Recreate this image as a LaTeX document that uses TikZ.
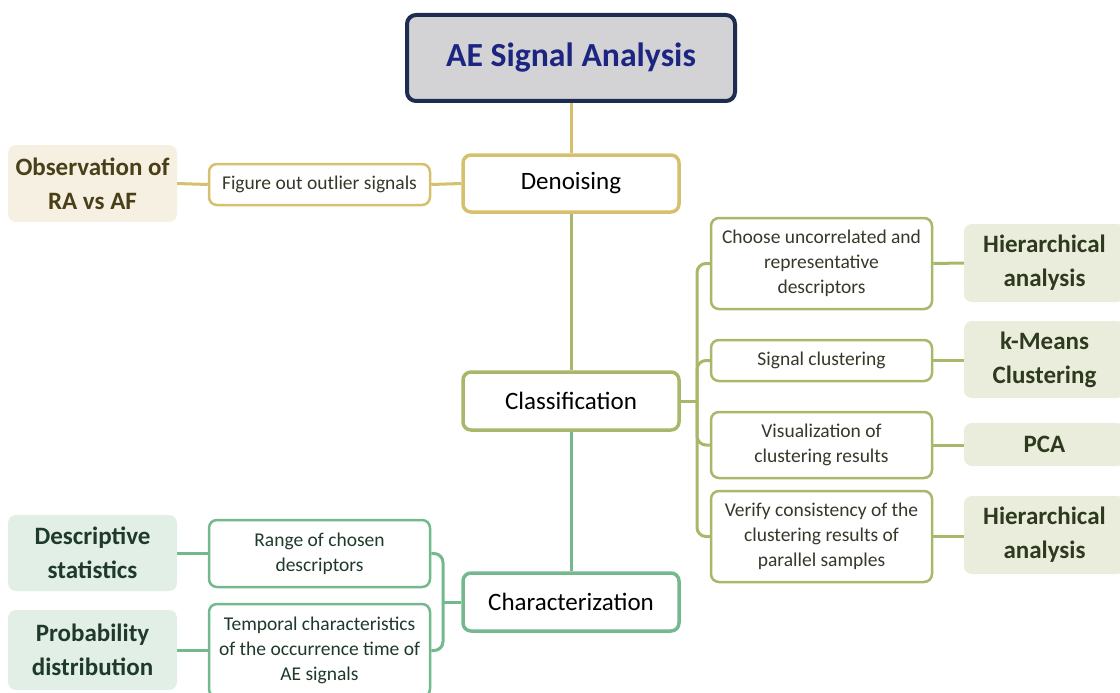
\documentclass[tikz,border=0pt]{standalone}
\usepackage{fontspec}
\setmainfont{Carlito}
\definecolor{gold}{HTML}{D6C06E}
\definecolor{olive}{HTML}{A8B86A}
\definecolor{teal}{HTML}{74B98E}
\definecolor{navy}{HTML}{1E2D4F}
\definecolor{titletxt}{HTML}{1C2580}
\definecolor{titlefill}{HTML}{D3D3D6}
\definecolor{obsfill}{HTML}{F5F0E1}
\definecolor{obstxt}{HTML}{4A3F17}
\definecolor{olfill}{HTML}{EAEDDC}
\definecolor{oltxt}{HTML}{2E3A1E}
\definecolor{tlfill}{HTML}{E2EFE6}
\definecolor{tltxt}{HTML}{1F3A2A}
\definecolor{smtxt}{HTML}{35392A}
\tikzset{
  mainbox/.style={draw, line width=3.5pt, rounded corners=8pt, fill=white, align=center, inner sep=0pt, minimum width=216pt, font=\fontsize{25}{29}\selectfont, text=black},
  kidbox/.style={draw, line width=2.5pt, rounded corners=8pt, fill=white, align=center, inner sep=0pt, minimum width=221pt, font=\fontsize{19.5}{25}\selectfont},
  leafbox/.style={rounded corners=8pt, align=center, inner sep=0pt, font=\bfseries\fontsize{25}{34}\selectfont},
  conn/.style={line width=3pt},
}
\begin{document}
\begin{tikzpicture}[x=1pt,y=-1pt]
\useasboundingbox (0,0) rectangle (1120,693);
% title
\node[draw=navy, line width=4pt, fill=titlefill, rounded corners=9pt, minimum width=328pt, minimum height=86pt, inner sep=0pt, text=titletxt, font=\bfseries\fontsize{33.7}{40}\selectfont] (title) at (571,58) {AE Signal Analysis};
% main boxes
\node[mainbox, draw=gold, minimum height=57pt] (den) at (571,183.5) {Denoising};
\node[mainbox, draw=olive, minimum height=58pt] (cls) at (571,401) {Classification};
\node[mainbox, draw=teal, minimum height=58pt] (chr) at (571,602) {Characterization};
% denoising branch
\node[kidbox, draw=gold, minimum height=41pt, text=smtxt] (fig) at (319.5,184.5) {Figure out outlier signals};
\node[leafbox, fill=obsfill, text=obstxt, minimum width=169pt, minimum height=77pt] (obs) at (92.5,183.5) {Observation of\\RA vs AF};
% classification branch
\node[kidbox, draw=olive, minimum height=91pt, text=smtxt] (cho) at (821.5,263.5) {Choose uncorrelated and\\representative\\descriptors};
\node[kidbox, draw=olive, minimum height=41pt, text=smtxt] (sig) at (821.5,360.5) {Signal clustering};
\node[kidbox, draw=olive, minimum height=66pt, text=smtxt] (vis) at (821.5,445) {Visualization of\\clustering results};
\node[kidbox, draw=olive, minimum height=91pt, text=smtxt] (ver) at (821.5,536.5) {Verify consistency of the\\clustering results of\\parallel samples};
\node[leafbox, fill=olfill, text=oltxt, minimum width=161pt, minimum height=78pt] (h1) at (1044.5,263) {Hierarchical\\analysis};
\node[leafbox, fill=olfill, text=oltxt, minimum width=161pt, minimum height=77pt] (km) at (1044.5,359.5) {k-Means\\Clustering};
\node[leafbox, fill=olfill, text=oltxt, minimum width=161pt, minimum height=43pt] (pca) at (1044.5,444.5) {PCA};
\node[leafbox, fill=olfill, text=oltxt, minimum width=161pt, minimum height=78pt] (h2) at (1044.5,535) {Hierarchical\\analysis};
% characterization branch
\node[kidbox, draw=teal, minimum height=67pt, text=tltxt] (rng) at (319.5,553.5) {Range of chosen\\descriptors};
\node[kidbox, draw=teal, minimum height=93pt, text=tltxt] (tmp) at (319.5,650.5) {Temporal characteristics\\of the occurrence time of\\AE signals};
\node[leafbox, fill=tlfill, text=tltxt, minimum width=169pt, minimum height=76pt] (desc) at (92.5,553) {Descriptive\\statistics};
\node[leafbox, fill=tlfill, text=tltxt, minimum width=169pt, minimum height=80pt] (prob) at (92.5,650) {Probability\\distribution};
% connectors
\coordinate (cb) at (697,401);
\coordinate (hb) at (443,602);
\draw[conn, gold] (title.south) -- (den.north);
\draw[conn, gold] (den.west) -- (fig.east);
\draw[conn, gold] (fig.west) -- (obs.east);
\draw[conn, olive] (den.south) -- (cls.north);
\draw[conn, teal] (cls.south) -- (chr.north);
\draw[conn, olive] (cls.east) -- (cb);
\draw[conn, olive, rounded corners=9pt] (cho.west) -| (cb) |- (ver.west);
\draw[conn, olive, rounded corners=9pt] (cb) |- (sig.west);
\draw[conn, olive, rounded corners=9pt] (cb) |- (vis.west);
\draw[conn, olive] (cho.east) -- (h1.west);
\draw[conn, olive] (sig.east) -- (sig.east -| km.west);
\draw[conn, olive] (vis.east) -- (vis.east -| pca.west);
\draw[conn, olive] (ver.east) -- (ver.east -| h2.west);
\draw[conn, teal] (chr.west) -- (hb);
\draw[conn, teal, rounded corners=9pt] (rng.east) -| (hb) |- (tmp.east);
\draw[conn, teal] (rng.west) -- (rng.west -| desc.east);
\draw[conn, teal] (tmp.west) -- (tmp.west -| prob.east);
\end{tikzpicture}
\end{document}
